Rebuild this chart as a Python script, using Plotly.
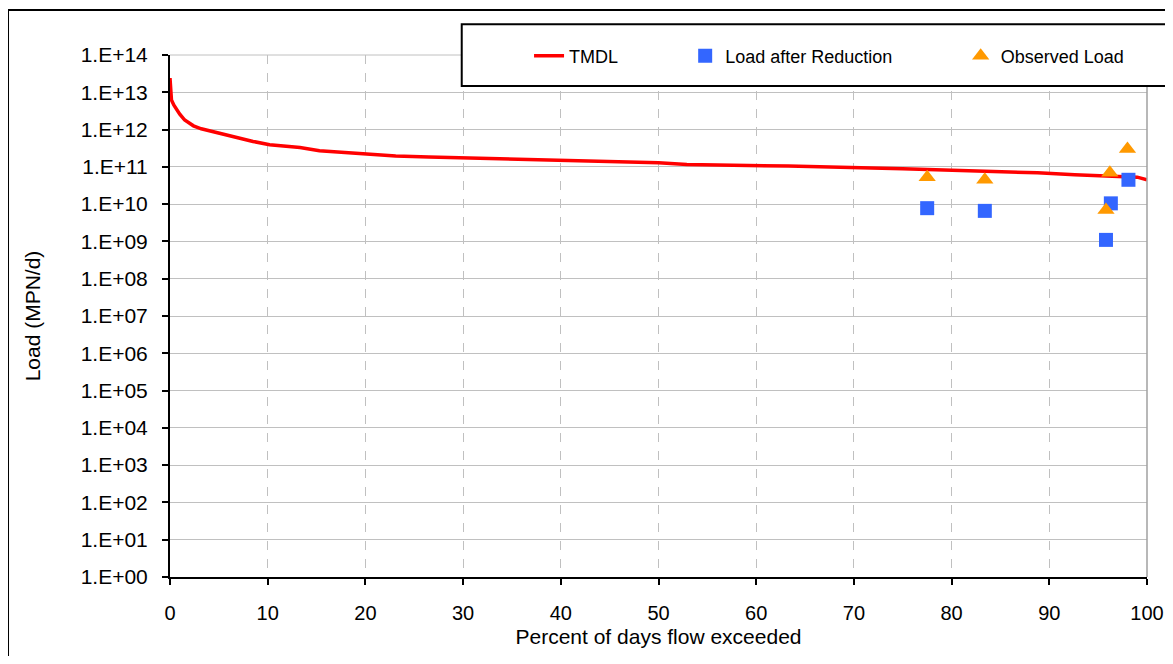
import plotly.graph_objects as go

# ---- data ----
tmdl_pct = [0.0, 0.05, 0.15, 0.4, 0.7, 1.0, 1.5, 2.0, 2.4, 3.2, 4.4, 5.4, 6.4, 7.5, 8.5,
            10.2, 11.8, 13.3, 15.3, 18.0, 19.9, 23.1, 26.5, 30.0, 37.8, 45.0, 50.0,
            52.9, 63.3, 75.0, 83.0, 88.8, 92.6, 97.1, 99.0, 100.0]
tmdl_load = [2.4e13, 1.1e13, 6.2e12, 4.5e12, 3.4e12, 2.6e12, 1.8e12, 1.45e12, 1.26e12,
             1.05e12, 8.7e11, 7.5e11, 6.5e11, 5.6e11, 4.8e11, 3.9e11, 3.6e11, 3.3e11,
             2.7e11, 2.4e11, 2.2e11, 1.95e11, 1.85e11, 1.75e11, 1.5e11, 1.35e11,
             1.28e11, 1.15e11, 1.05e11, 8.9e10, 7.7e10, 6.9e10, 6.1e10, 5.5e10,
             5.3e10, 4.5e10]

reduced_pct = [77.5, 83.4, 96.3, 95.8, 98.1]
reduced_load = [7.8e9, 6.6e9, 1.05e10, 1.1e9, 4.5e10]

observed_pct = [77.5, 83.4, 96.2, 95.8, 98.0]
observed_load = [5.3e10, 4.5e10, 7.0e10, 7.0e9, 3.0e11]

y_tickvals = [10 ** k for k in range(0, 15)]
y_ticktext = ["1.E+%02d" % k for k in range(0, 15)]
x_tickvals = list(range(0, 101, 10))

FONT = "Liberation Sans, Arial, sans-serif"

fig = go.Figure()
fig.add_trace(go.Scatter(x=tmdl_pct, y=tmdl_load, mode="lines", name="TMDL",
                         line=dict(color="#FF0000", width=3.5),
                         legend="legend"))
fig.add_trace(go.Scatter(x=reduced_pct, y=reduced_load, mode="markers",
                         name="Load after Reduction",
                         marker=dict(symbol="square", size=14, color="#3366FF"),
                         legend="legend2"))
fig.add_trace(go.Scatter(x=observed_pct, y=observed_load, mode="markers",
                         name="Observed Load",
                         marker=dict(symbol="triangle-up", size=15, color="#FF9900"),
                         legend="legend3"))

leg_common = dict(orientation="h", yanchor="middle", y=0.998, xanchor="left",
                  bgcolor="rgba(0,0,0,0)", borderwidth=0,
                  font=dict(family=FONT, size=18, color="black"))

fig.update_layout(
    width=1157, height=648, autosize=False,
    margin=dict(l=162, r=18, t=47, b=79),
    paper_bgcolor="white", plot_bgcolor="white",
    font=dict(family=FONT, size=21, color="black"),
    showlegend=True,
    legend=dict(x=0.3675, **leg_common),
    legend2=dict(x=0.5273, **leg_common),
    legend3=dict(x=0.8093, **leg_common),
    xaxis=dict(range=[0, 100], tickvals=x_tickvals, showgrid=True,
               gridcolor="#C0C0C0", gridwidth=1, griddash="dash",
               showline=True, linecolor="black", linewidth=2, zeroline=False,
               ticks="outside", ticklen=6, tickcolor="black", tickwidth=1.5,
               tickfont=dict(size=20),
               ticklabelstandoff=11, ticklabeloverflow="allow", automargin=False,
               title=dict(text="Percent of days flow exceeded", standoff=6,
                          font=dict(size=21))),
    yaxis=dict(type="log", range=[0, 14], tickvals=y_tickvals, ticktext=y_ticktext,
               showgrid=True, gridcolor="#C0C0C0", gridwidth=1,
               showline=True, linecolor="black", linewidth=2,
               ticks="outside", ticklen=6, tickcolor="black", tickwidth=1.5,
               ticklabelstandoff=10,
               title=dict(text="Load (MPN/d)", standoff=34, font=dict(size=21))),
    shapes=[
        # plot-area right and top borders (gray)
        dict(type="line", xref="paper", yref="paper", x0=1, x1=1, y0=0, y1=1,
             line=dict(color="#A0A0A0", width=1.5)),
        dict(type="line", xref="paper", yref="paper", x0=0, x1=1, y0=1, y1=1,
             line=dict(color="#C0C0C0", width=1)),
        # outer chart border (left and top edges; the rest lies outside the view)
        dict(type="line", xref="paper", yref="paper", x0=-0.1658, x1=-0.1658,
             y0=-0.2, y1=1.0862, line=dict(color="black", width=2)),
        dict(type="line", xref="paper", yref="paper", x0=-0.1658, x1=1.1,
             y0=1.0862, y1=1.0862, line=dict(color="black", width=2)),
        # legend box
        dict(type="rect", xref="paper", yref="paper", x0=0.2986, x1=1.1,
             y0=0.9406, y1=1.0588, line=dict(color="black", width=2),
             fillcolor="white", layer="above"),
    ],
)

fig.write_html("out.html")
